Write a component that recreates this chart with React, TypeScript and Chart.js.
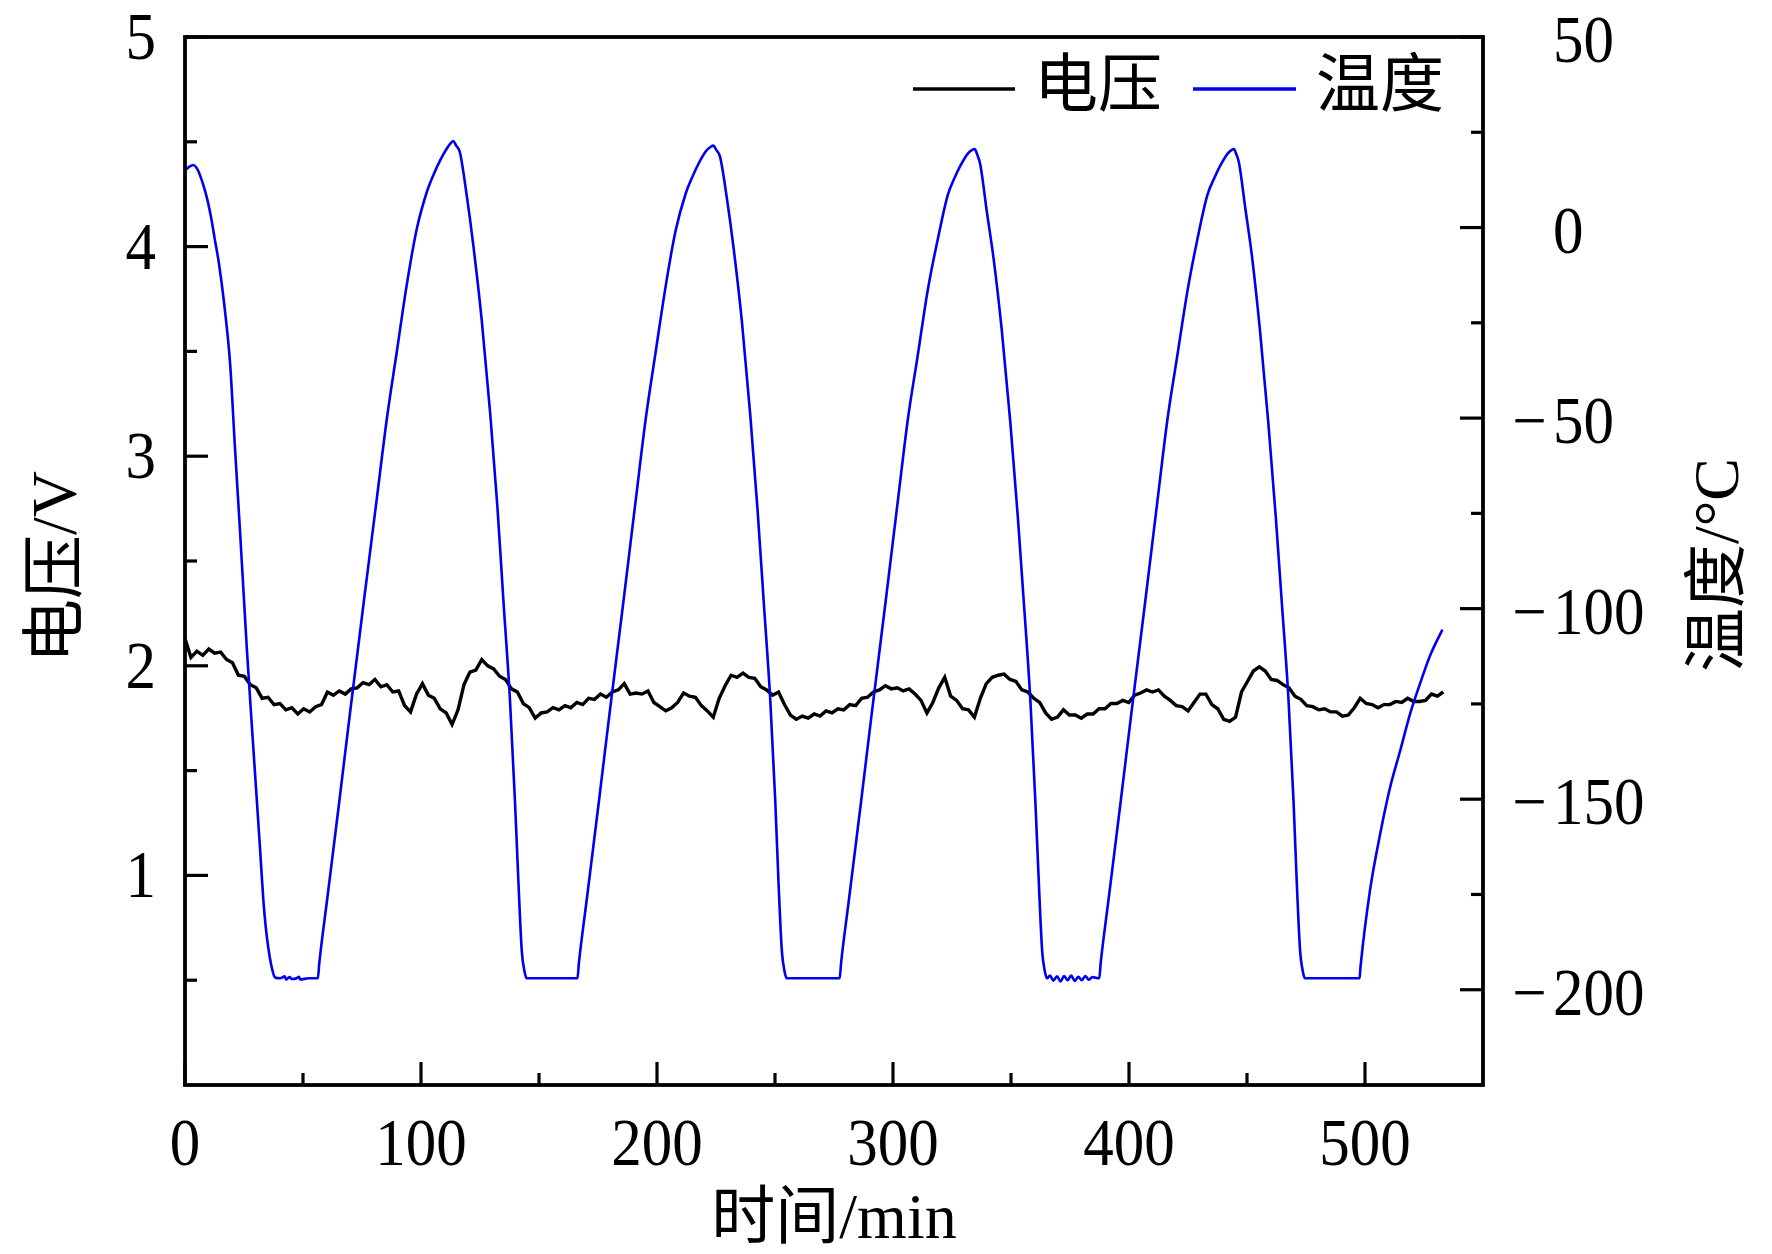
import { useEffect, useRef } from "react";
import Chart from "chart.js/auto";

// voltage sampled at a fixed interval (min) from t = 0
const VOLT_STEP = 2.515;
const VOLTAGE = [
  2.13, 2.04, 2.07, 2.05, 2.08, 2.06, 2.065, 2.03, 2.015, 1.955,
  1.95, 1.91, 1.895, 1.845, 1.85, 1.815, 1.82, 1.79, 1.8, 1.77,
  1.795, 1.78, 1.805, 1.815, 1.875, 1.86, 1.88, 1.865, 1.89, 1.895,
  1.92, 1.91, 1.935, 1.9, 1.91, 1.875, 1.88, 1.81, 1.78, 1.865,
  1.915, 1.86, 1.845, 1.795, 1.775, 1.72, 1.79, 1.91, 1.97, 1.98,
  2.03, 2.0, 1.985, 1.95, 1.935, 1.89, 1.875, 1.82, 1.8, 1.75,
  1.775, 1.78, 1.8, 1.79, 1.81, 1.8, 1.825, 1.815, 1.845, 1.84,
  1.865, 1.85, 1.875, 1.885, 1.915, 1.865, 1.87, 1.865, 1.88, 1.825,
  1.805, 1.785, 1.8, 1.825, 1.87, 1.855, 1.85, 1.81, 1.785, 1.755,
  1.845, 1.905, 1.955, 1.945, 1.965, 1.945, 1.94, 1.9, 1.885, 1.86,
  1.875, 1.815, 1.765, 1.745, 1.76, 1.75, 1.77, 1.76, 1.785, 1.775,
  1.795, 1.79, 1.815, 1.81, 1.845, 1.85, 1.875, 1.885, 1.905, 1.89,
  1.895, 1.88, 1.89, 1.865, 1.835, 1.775, 1.825, 1.895, 1.945, 1.855,
  1.835, 1.795, 1.79, 1.755, 1.845, 1.915, 1.945, 1.955, 1.96, 1.935,
  1.925, 1.885, 1.875, 1.845, 1.825, 1.775, 1.745, 1.755, 1.79, 1.765,
  1.765, 1.75, 1.77, 1.77, 1.795, 1.795, 1.82, 1.82, 1.835, 1.825,
  1.86, 1.87, 1.885, 1.875, 1.885, 1.855, 1.835, 1.81, 1.805, 1.785,
  1.825, 1.865, 1.865, 1.815, 1.795, 1.745, 1.735, 1.755, 1.875, 1.925,
  1.975, 1.995, 1.975, 1.935, 1.93, 1.91, 1.895, 1.855, 1.84, 1.81,
  1.805, 1.79, 1.795, 1.78, 1.78, 1.76, 1.765, 1.8, 1.845, 1.82,
  1.815, 1.8, 1.815, 1.815, 1.83, 1.825, 1.845, 1.83, 1.83, 1.835,
  1.865, 1.855, 1.875,
];

const TEMP_TIME = [
  0, 1.5, 3.5, 5, 6.5, 8.1, 9.6, 11.1, 12.6, 14.4, 16.6, 19.1, 21.1, 23.3, 26.2, 29, 31.8, 33.2, 34.2, 35.3, 36.7, 38.2,
  40.3, 42.3, 42.8, 44.3, 45.3, 47.3, 48.3, 48.8, 52.4, 56.3,
  56.9, 60.3, 65.3, 69.9, 75.8, 81.1, 85.5, 89.7, 93.9, 98.2, 102.4, 105.4, 108, 111, 112.8, 113.7,
  114.9, 116.5, 119.4, 122.2, 125.7, 129.3, 132.4, 134.9, 137.7, 139.8, 141.3, 142.7, 143.8, 144.8,
  151, 159, 166.3,
  166.9, 170.3, 175.3, 179.9, 185.8, 190.9, 195.2, 199.4, 203.7, 207.9, 212.1, 215.2, 217.8, 220.7, 222.8, 223.9,
  225.1, 226.7, 229.7, 232.5, 236, 239.5, 242.6, 245.2, 248, 250.1, 251.5, 252.9, 254, 255,
  261.8, 269.8, 277.4,
  278, 281.4, 286.4, 291, 296.9, 302, 306.3, 310.5, 314.7, 319, 323.2, 326.2, 328.8, 331.7, 333.6, 334.6,
  335.6, 337, 339.8, 342.7, 346.1, 349.7, 352.9, 355.4, 358.2, 360.3, 361.8, 363.2, 364.3, 365.3,
  366.5, 368, 369.5, 371, 372.5, 374, 375.5, 377, 378.5, 380, 381.5, 383, 384.5, 387.4,
  388, 391.4, 396.4, 401, 406.9, 412, 416.3, 420.5, 424.8, 429, 433.2, 436.3, 438.9, 441.8, 443.6, 444.5,
  445.3, 446.6, 449.3, 452.1, 455.5, 459, 462.2, 464.7, 467.6, 469.7, 471.1, 472.5, 473.6, 474.6,
  483.3, 491.3, 497.7,
  498.1, 502.1, 506.4, 510.6, 514.9, 519.1, 523.3, 527.6, 532.8,
];

const TEMPERATURE = [
  15.0, 15.8, 16.4, 15.6, 13.5, 10.5, 7.0, 2.5, -3, -9.5, -20, -35.6, -57, -79.5, -110.5, -137, -163, -176.5, -183.5, -189, -194, -196.8,
  -197, -196.5, -197.3, -196.7, -197.2, -197, -196.6, -197.3, -197, -197,
  -193, -176, -151, -127.5, -98, -72, -50.3, -32.8, -15.3, -0.4, 9.2, 14, 17.5, 20.8, 22.3, 22.7,
  21.5, 19.7, 8.3, -4.8, -24.1, -48.6, -73.5, -97.7, -124, -150.3, -172, -189.8, -195, -197,
  -197, -197, -197,
  -193, -176, -151, -127.5, -98, -72, -50.3, -32.8, -15.3, -0.8, 8.8, 13.6, 17, 20, 21.2, 21.5,
  20.4, 18.6, 7.3, -5.6, -24.8, -49, -74, -98, -124, -150.3, -172, -189.8, -195, -197,
  -197, -197, -197,
  -193, -176, -151, -127.5, -98, -72, -50.3, -33.5, -16.5, -3, 8.5, 13.2, 16.5, 19.4, 20.4, 20.6,
  19.3, 16.5, 4, -8.5, -27, -51, -76, -98, -124, -150.3, -172, -189.8, -195, -197,
  -196.3, -197.6, -196.5, -197.8, -196.4, -197.5, -196.3, -197.7, -196.6, -197.5, -196.4, -197.4, -196.7, -197,
  -193, -176, -151, -127.5, -98, -72, -50.3, -33.5, -16.5, -3, 8.5, 13.2, 16.5, 19.4, 20.4, 20.6,
  19.5, 17, 5, -7.5, -27, -51, -76, -98, -124, -150.3, -172, -189.8, -195, -197,
  -197, -197, -197,
  -194, -174, -159.2, -147, -137.3, -127.6, -119.7, -112.3, -105.5,
];

const X_MAJOR = [0, 100, 200, 300, 400, 500];
const X_MINOR = [50, 150, 250, 350, 450];
const V_MAJOR = [1, 2, 3, 4, 5];
const V_MINOR = [0.5, 1.5, 2.5, 3.5, 4.5];
const T_MAJOR = [50, 0, -50, -100, -150, -200];
const T_MINOR = [25, -25, -75, -125, -175];

const SERIF = '"Liberation Serif", "Times New Roman", serif';
const MIXED = '"Liberation Serif", "Noto Sans CJK SC", serif';
const BLUE = "#0000ee";

// numbers in the reference are a little taller than they are wide
const drawNum = (ctx: CanvasRenderingContext2D, text: string, x: number, y: number, align: CanvasTextAlign) => {
  ctx.save();
  ctx.translate(x, y);
  ctx.scale(1, 1.1);
  ctx.textAlign = align;
  ctx.fillText(text, 0, 0);
  ctx.restore();
};

const framePlugin = {
  id: "frameAxes",
  afterDraw(chart: any) {
    const { ctx, chartArea, scales } = chart;
    const { left, right, top, bottom } = chartArea;
    const x = scales.x;
    const yV = scales.yV;
    const yT = scales.yT;
    const seg = (x1: number, y1: number, x2: number, y2: number) => {
      ctx.beginPath();
      ctx.moveTo(x1, y1);
      ctx.lineTo(x2, y2);
      ctx.stroke();
    };
    ctx.save();
    ctx.strokeStyle = "#000";
    ctx.fillStyle = "#000";
    ctx.lineWidth = 3.2;
    X_MAJOR.forEach((v) => seg(x.getPixelForValue(v), bottom, x.getPixelForValue(v), bottom - 23));
    X_MINOR.forEach((v) => seg(x.getPixelForValue(v), bottom, x.getPixelForValue(v), bottom - 12));
    V_MAJOR.forEach((v) => seg(left, yV.getPixelForValue(v), left + 23, yV.getPixelForValue(v)));
    V_MINOR.forEach((v) => seg(left, yV.getPixelForValue(v), left + 12, yV.getPixelForValue(v)));
    T_MAJOR.forEach((v) => seg(right, yT.getPixelForValue(v), right - 23, yT.getPixelForValue(v)));
    T_MINOR.forEach((v) => seg(right, yT.getPixelForValue(v), right - 12, yT.getPixelForValue(v)));

    ctx.lineWidth = 3.8;
    ctx.strokeRect(left, top, right - left, bottom - top);

    // tick labels
    ctx.font = `61px ${SERIF}`;
    ctx.textBaseline = "alphabetic";
    X_MAJOR.forEach((v) => drawNum(ctx, String(v), x.getPixelForValue(v), bottom + 80, "center"));
    V_MAJOR.forEach((v) => drawNum(ctx, String(v), left - 29, yV.getPixelForValue(v) + 22, "right"));
    T_MAJOR.forEach((v) => {
      const py = yT.getPixelForValue(v) + 25;
      drawNum(ctx, String(Math.abs(v)), right + 70, py, "left");
      if (v < 0) drawNum(ctx, "\u2212", right + 64, py, "right");
    });

    // axis titles
    ctx.font = `64px ${MIXED}`;
    ctx.textAlign = "center";
    ctx.fillText("时间/min", (left + right) / 2, 1238);
    ctx.textBaseline = "middle";
    ctx.save();
    ctx.translate(59, (top + bottom) / 2 + 6);
    ctx.rotate(-Math.PI / 2);
    ctx.fillText("电压/V", 0, 0);
    ctx.restore();
    ctx.save();
    ctx.translate(1721, (top + bottom) / 2 + 4);
    ctx.rotate(-Math.PI / 2);
    ctx.fillText("温度/°C", 0, 0);
    ctx.restore();

    // legend
    ctx.lineWidth = 3.5;
    ctx.strokeStyle = "#000";
    seg(913, 89, 1015, 89);
    ctx.strokeStyle = BLUE;
    seg(1193, 89, 1296, 89);
    ctx.textAlign = "left";
    ctx.fillText("电压", 1034, 89);
    ctx.fillText("温度", 1316, 89);
    ctx.restore();
  },
};

export default function App() {
  const canvasRef = useRef<HTMLCanvasElement | null>(null);
  const chartRef = useRef<Chart | null>(null);

  useEffect(() => {
    if (!canvasRef.current) return;
    if (chartRef.current) chartRef.current.destroy();

    const voltPoints = VOLTAGE.map((v, i) => ({ x: i * VOLT_STEP, y: v }));
    const tempPoints = TEMP_TIME.map((t, i) => ({ x: t, y: TEMPERATURE[i] }));

    chartRef.current = new Chart(canvasRef.current, {
      type: "line",
      data: {
        datasets: [
          {
            label: "温度",
            data: tempPoints,
            yAxisID: "yT",
            borderColor: BLUE,
            borderWidth: 2.6,
            pointRadius: 0,
            cubicInterpolationMode: "monotone",
            fill: false,
          },
          {
            label: "电压",
            data: voltPoints,
            yAxisID: "yV",
            borderColor: "#000",
            borderWidth: 3.4,
            pointRadius: 0,
            tension: 0,
            fill: false,
          },
        ],
      },
      options: {
        animation: false,
        responsive: true,
        maintainAspectRatio: false,
        layout: { padding: { left: 185, right: 289, top: 37, bottom: 169 } },
        scales: {
          x: { type: "linear", min: 0, max: 550, display: false },
          yV: { type: "linear", position: "left", min: 0, max: 5, display: false },
          yT: { type: "linear", position: "right", min: -225, max: 50, display: false },
        },
        plugins: {
          legend: { display: false },
          tooltip: { enabled: false },
        },
      },
      plugins: [framePlugin],
    });

    return () => {
      if (chartRef.current) {
        chartRef.current.destroy();
        chartRef.current = null;
      }
    };
  }, []);

  return (
    <div style={{ position: "fixed", left: 0, top: 0, width: 1772, height: 1254, background: "#fff" }}>
      <canvas ref={canvasRef}></canvas>
    </div>
  );
}
